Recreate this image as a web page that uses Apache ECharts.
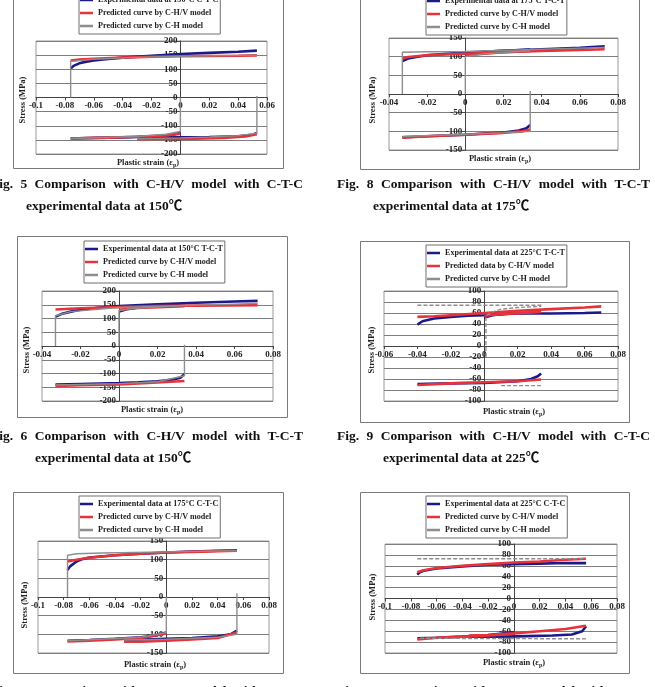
<!DOCTYPE html>
<html>
<head>
<meta charset="utf-8">
<script src="https://cdn.jsdelivr.net/npm/echarts@6/dist/echarts.min.js"></script>
<style>
  html, body { margin: 0; padding: 0; background: #fff; }
  #page { position: relative; width: 655px; height: 687px; overflow: hidden; }
  #chart { position: absolute; left: 0; top: 0; width: 655px; height: 687px; }
  .cap { position: absolute; white-space: nowrap; color: #111; line-height: 18px;
         font: bold 13.5px "Liberation Serif", "Noto Sans CJK SC", serif; }
  .cap.j { text-align: justify; text-align-last: justify; }
</style>
</head>
<body>
<div id="page">
  <div id="chart"></div>
</div>
<script>
// ---- data (strain, stress MPa), each array = list of curve segments ----
// Fig. 5  150°C C-T-C
const fig5Names = ['Experimental data at 150°C C-T-C', 'Predicted curve by C-H/V model', 'Predicted curve by C-H model'];
const fig5Exp = [
  [[0, -125], [-0.005, -132], [-0.02, -138], [-0.04, -141], [-0.06, -143], [-0.076, -145]],
  [[-0.076, 102], [-0.074, 112], [-0.07, 121], [-0.065, 127], [-0.06, 131], [-0.05, 136], [-0.04, 141], [-0.02, 148], [0, 154], [0.02, 158], [0.04, 162], [0.053, 166]],
  [[0.053, -125], [0.05, -132], [0.04, -137], [0.02, -140], [0, -141], [-0.02, -142]]
];
const fig5Chv = [
  [[0, -128], [-0.01, -134], [-0.03, -139], [-0.05, -142], [-0.076, -145]],
  [[-0.076, 131], [-0.07, 134], [-0.06, 137], [-0.04, 141], [-0.02, 144], [0, 146], [0.02, 147], [0.04, 148], [0.053, 149]],
  [[0.053, -130], [0.045, -138], [0.03, -143], [0.01, -146], [-0.01, -147], [-0.03, -148]]
];
const fig5Ch = [
  [[0, 0], [0, -120], [-0.01, -130], [-0.03, -138], [-0.076, -145]],
  [[-0.076, 0], [-0.076, 128], [-0.06, 136], [-0.03, 142], [0, 146], [0.053, 150]],
  [[0.053, 5], [0.053, -126], [0.04, -135], [0.02, -140], [0, -143], [-0.03, -146]]
];

// Fig. 8  175°C T-C-T
const fig8Names = ['Experimental data at 175°C T-C-T', 'Predicted curve by C-H/V model', 'Predicted curve by C-H model'];
const fig8Exp = [
  [[0, 105], [0.005, 110], [0.01, 113], [0.02, 116], [0.034, 119]],
  [[0.034, -83], [0.032, -92], [0.028, -98], [0.02, -103], [0.01, -106], [0, -109], [-0.02, -113], [-0.033, -116]],
  [[-0.033, 88], [-0.03, 95], [-0.025, 100], [-0.02, 104], [-0.01, 108], [0, 111], [0.02, 116], [0.04, 120], [0.06, 124], [0.073, 128]]
];
const fig8Chv = [
  [[0, 103], [0.01, 108], [0.02, 112], [0.034, 115]],
  [[0.034, -95], [0.03, -100], [0.02, -104], [0, -109], [-0.02, -113], [-0.033, -117]],
  [[-0.033, 95], [-0.03, 99], [-0.02, 104], [0, 108], [0.02, 112], [0.04, 115], [0.06, 118], [0.073, 120]]
];
const fig8Ch = [
  [[0, 0], [0, 100], [0.01, 108], [0.034, 116]],
  [[0.034, 8], [0.034, -100], [0.02, -104], [0, -108], [-0.033, -114]],
  [[-0.033, 0], [-0.033, 112], [-0.02, 113], [0, 114], [0.04, 120], [0.073, 125]]
];

// Fig. 6  150°C T-C-T
const fig6Names = ['Experimental data at 150°C T-C-T', 'Predicted curve by C-H/V model', 'Predicted curve by C-H model'];
const fig6Exp = [
  [[0, 125], [0.005, 135], [0.01, 140], [0.02, 148], [0.034, 153]],
  [[0.034, -102], [0.032, -115], [0.028, -122], [0.02, -128], [0.01, -132], [0, -135], [-0.02, -138], [-0.033, -140]],
  [[-0.033, 107], [-0.03, 116], [-0.025, 125], [-0.02, 132], [-0.01, 140], [0, 145], [0.02, 152], [0.04, 157], [0.06, 162], [0.072, 164]]
];
const fig6Chv = [
  [[0, 132], [0.01, 138], [0.034, 145]],
  [[0.034, -127], [0.02, -133], [0, -140], [-0.02, -143], [-0.033, -145]],
  [[-0.033, 133], [-0.02, 137], [0, 142], [0.02, 145], [0.04, 147], [0.072, 148]]
];
const fig6Ch = [
  [[0, 0], [0, 128], [0.005, 135], [0.034, 148]],
  [[0.034, 5], [0.034, -108], [0.02, -130], [0, -137], [-0.033, -142]],
  [[-0.033, 0], [-0.033, 110], [-0.025, 125], [0, 140], [0.072, 155]]
];

// Fig. 9  225°C T-C-T
const fig9Names = ['Experimental data at 225°C T-C-T', 'Predicted data by C-H/V model', 'Predicted curve by C-H model'];
const fig9Exp = [
  [[0, 52], [0.005, 56], [0.01, 58], [0.02, 60], [0.034, 61]],
  [[0.034, -50], [0.032, -55], [0.028, -60], [0.02, -64], [0, -67], [-0.02, -68], [-0.04, -69]],
  [[-0.04, 39], [-0.037, 45], [-0.03, 50], [-0.02, 53], [-0.01, 55], [0, 56], [0.01, 58], [0.02, 59], [0.04, 59], [0.06, 60], [0.07, 61]]
];
const fig9Chv = [
  [[0, 55], [0.01, 58], [0.034, 62]],
  [[0.034, -61], [0.02, -64], [0, -66], [-0.02, -68], [-0.04, -71]],
  [[-0.04, 53], [-0.03, 54], [-0.02, 56], [0, 60], [0.02, 64], [0.04, 67], [0.06, 70], [0.07, 72]]
];
const fig9Ch = [
  [[0.001, -20], [0.001, 55], [0.005, 62], [0.01, 67], [0.02, 70], [0.034, 72]],
  [[0.034, -72], [0.01, -72]],
  [[-0.04, 74], [0.035, 74]]
];

// Fig. 7  175°C C-T-C
const fig7Names = ['Experimental data at 175°C C-T-C', 'Predicted curve by C-H/V model', 'Predicted curve by C-H model'];
const fig7Exp = [
  [[0, -95], [-0.01, -104], [-0.02, -108], [-0.04, -112], [-0.06, -115], [-0.077, -117]],
  [[-0.077, 72], [-0.075, 82], [-0.07, 95], [-0.065, 102], [-0.06, 106], [-0.04, 112], [-0.02, 116], [0, 119], [0.02, 122], [0.04, 124], [0.055, 125]],
  [[0.055, -90], [0.05, -100], [0.04, -105], [0.02, -110], [0, -112], [-0.02, -114], [-0.033, -115]]
];
const fig7Chv = [
  [[0, -98], [-0.02, -110], [-0.04, -114], [-0.06, -117], [-0.077, -119]],
  [[-0.077, 95], [-0.07, 100], [-0.06, 105], [-0.04, 112], [-0.02, 116], [0, 119], [0.02, 121], [0.04, 123], [0.055, 124]],
  [[0.055, -95], [0.04, -110], [0.02, -114], [0, -117], [-0.02, -120], [-0.033, -120]]
];
const fig7Ch = [
  [[0, 0], [0, -95], [-0.02, -108], [-0.077, -117]],
  [[-0.077, 0], [-0.077, 112], [-0.07, 116], [-0.05, 118], [0, 121], [0.055, 124]],
  [[0.055, 10], [0.055, -100], [0.04, -108], [0, -113], [-0.033, -115]]
];

// Fig. 10  225°C C-T-C
const fig10Names = ['Experimental data at 225°C C-T-C', 'Predicted curve by C-H/V model', 'Predicted curve by C-H model'];
const fig10Exp = [
  [[0, -62], [-0.02, -67], [-0.04, -70], [-0.06, -72], [-0.075, -73]],
  [[-0.075, 44], [-0.073, 48], [-0.07, 51], [-0.06, 55], [-0.04, 59], [-0.02, 62], [0, 63], [0.02, 64], [0.04, 65], [0.056, 65]],
  [[0.056, -51], [0.053, -60], [0.045, -66], [0.03, -68], [0.01, -69], [-0.01, -70], [-0.035, -70]]
];
const fig10Chv = [
  [[0, -65], [-0.02, -68], [-0.04, -70], [-0.06, -72], [-0.075, -75]],
  [[-0.075, 48], [-0.07, 52], [-0.06, 56], [-0.04, 60], [-0.02, 63], [0, 66], [0.02, 68], [0.04, 71], [0.056, 73]],
  [[0.056, -50], [0.04, -56], [0.02, -60], [0, -64], [-0.02, -67], [-0.035, -68]]
];
const fig10Ch = [
  [[-0.075, 73], [0.056, 73]],
  [[0.056, -74], [-0.075, -73]]
];

// axis ranges [min, max, interval]
const fig5X = [-0.1, 0.06, 0.02], fig5Y = [-200, 200, 50];
const fig8X = [-0.04, 0.08, 0.02], fig8Y = [-150, 150, 50];
const fig6X = [-0.04, 0.08, 0.02], fig6Y = [-200, 200, 50];
const fig9X = [-0.06, 0.08, 0.02], fig9Y = [-100, 100, 20];
const fig7X = [-0.1, 0.08, 0.02], fig7Y = [-150, 150, 50];
const fig10X = [-0.1, 0.08, 0.02], fig10Y = [-100, 100, 20];

const yTitle = 'Stress (MPa)';
const captionLines = [
  ['Fig. 5 Comparison with C-H/V model with C-T-C', 'experimental data at 150℃'],
  ['Fig. 8 Comparison with C-H/V model with T-C-T', 'experimental data at 175℃'],
  ['Fig. 6 Comparison with C-H/V model with T-C-T', 'experimental data at 150℃'],
  ['Fig. 9 Comparison with C-H/V model with C-T-C', 'experimental data at 225℃'],
  ['Fig. 7 Comparison with C-H/V model with C-T-C', ''],
  ['Fig. 10 Comparison with C-H/V model with C-T-C', '']
];

// ---- layout ----
const panels = [
  { names: fig5Names, exp: fig5Exp, chv: fig5Chv, ch: fig5Ch, x: fig5X, y: fig5Y,
    box: [13, -20, 270, 188], grid: [36, 41, 231, 113], legend: [79, -8], yName: [23, 100], xName: [148, 163] },
  { names: fig8Names, exp: fig8Exp, chv: fig8Chv, ch: fig8Ch, x: fig8X, y: fig8Y,
    box: [360, -20, 279, 189], grid: [389, 38, 229, 112], legend: [426, -7], yName: [373, 100], xName: [500, 159] },
  { names: fig6Names, exp: fig6Exp, chv: fig6Chv, ch: fig6Ch, x: fig6X, y: fig6Y,
    box: [17, 236, 270, 181], grid: [42, 291, 231, 110], legend: [84, 241], yName: [27, 350], xName: [152, 410] },
  { names: fig9Names, exp: fig9Exp, chv: fig9Chv, ch: fig9Ch, x: fig9X, y: fig9Y, dash: true,
    box: [360, 241, 269, 181], grid: [384, 291, 234, 110], legend: [426, 245], yName: [372, 350], xName: [514, 412] },
  { names: fig7Names, exp: fig7Exp, chv: fig7Chv, ch: fig7Ch, x: fig7X, y: fig7Y,
    box: [13, 492, 270, 181], grid: [38, 541, 231, 112], legend: [79, 496], yName: [25, 605], xName: [155, 665] },
  { names: fig10Names, exp: fig10Exp, chv: fig10Chv, ch: fig10Ch, x: fig10X, y: fig10Y, dash: true,
    box: [360, 492, 269, 181], grid: [385, 544, 232, 109], legend: [426, 496], yName: [373, 597], xName: [514, 663] }
];
// caption: [line1 left, line1 width, line1 top, line2 left]
const captionPos = [
  [-9, 312, 176, 26], [337, 313, 176, 373],
  [-9, 312, 428, 35], [337, 313, 428, 383],
  [-9, 312, 683, 0], [337, 313, 683, 0]
];

const serif = '"Liberation Serif", "Times New Roman", serif';
const blue = '#1c1a8a', red = '#e8323a', gray = '#8e8e8e';

function curve(segs, name, color, width, ax, z, dash) {
  return segs.map(seg => ({
    type: 'line', name: name, xAxisIndex: ax, yAxisIndex: ax, data: seg,
    symbol: 'none', silent: true, z: z, animation: false,
    lineStyle: { color: color, width: width, type: dash ? [4, 2] : 'solid' },
    itemStyle: { color: color }
  }));
}

const grid = [], xAxis = [], yAxis = [], legend = [], series = [], graphic = [];
const labelStyle = { fontFamily: serif, fontWeight: 'bold', fontSize: 9, color: '#222' };

panels.forEach((p, i) => {
  // Excel style: axes cross at zero, labels follow the crossing lines
  const xOff = -p.grid[3] * (0 - p.y[0]) / (p.y[1] - p.y[0]);
  const yOff = -p.grid[2] * (0 - p.x[0]) / (p.x[1] - p.x[0]);
  graphic.push({ type: 'rect', z: -1,
    shape: { x: p.box[0] + 0.5, y: p.box[1] + 0.5, width: p.box[2], height: p.box[3] },
    style: { fill: '#fff', stroke: '#7a7a7a', lineWidth: 1 } });
  grid.push({ left: p.grid[0], top: p.grid[1], width: p.grid[2], height: p.grid[3],
    show: true, borderColor: '#9a9a9a', borderWidth: 1, backgroundColor: 'transparent' });
  xAxis.push({ type: 'value', gridIndex: i, min: p.x[0], max: p.x[1], interval: p.x[2],
    position: 'bottom', offset: xOff,
    axisLine: { onZero: false, lineStyle: { color: '#444', width: 1 } },
    axisTick: { show: true, length: 3, lineStyle: { color: '#444' } },
    axisLabel: Object.assign({ margin: 4 }, labelStyle),
    splitLine: { show: false } });
  yAxis.push({ type: 'value', gridIndex: i, min: p.y[0], max: p.y[1], interval: p.y[2],
    position: 'left', offset: yOff,
    axisLine: { onZero: false, lineStyle: { color: '#444', width: 1 } },
    axisTick: { show: true, length: 3, lineStyle: { color: '#444' } },
    axisLabel: Object.assign({ margin: 3 }, labelStyle),
    splitLine: { show: true, lineStyle: { color: '#7d7d7d', width: 1 } } });
  legend.push({ left: p.legend[0], top: p.legend[1], orient: 'vertical',
    data: p.names, icon: 'rect', itemWidth: 13, itemHeight: 2.5, itemGap: 3,
    padding: [3, 2, 3, 1], borderColor: '#6f6f6f', borderWidth: 1, backgroundColor: '#fff',
    textStyle: { fontFamily: serif, fontWeight: 'bold', fontSize: 8.1, color: '#222', lineHeight: 10 } });
  series.push(...curve(p.exp, p.names[0], blue, 2.6, i, 2));
  series.push(...curve(p.chv, p.names[1], red, 2.6, i, 3));
  series.push(...curve(p.ch, p.names[2], gray, 1.4, i, 4, p.dash));
  graphic.push({ type: 'text', x: p.yName[0], y: p.yName[1], rotation: Math.PI / 2,
    style: { text: yTitle, fontFamily: serif, fontWeight: 'bold', fontSize: 8.5, fill: '#222',
      align: 'center', verticalAlign: 'middle' } });
  graphic.push({ type: 'text', x: p.xName[0], y: p.xName[1],
    style: { text: '{a|Plastic strain (ε}{s|p}{a|)}', align: 'center', verticalAlign: 'middle',
      rich: {
        a: { fontFamily: serif, fontWeight: 'bold', fontSize: 8.5, fill: '#222', lineHeight: 11 },
        s: { fontFamily: serif, fontWeight: 'bold', fontSize: 6, fill: '#222', lineHeight: 11,
             verticalAlign: 'bottom', padding: [4, 0, 0, 0] }
      } } });
});

const myChart = echarts.init(document.getElementById('chart'));
myChart.setOption({
  animation: false,
  grid: grid, xAxis: xAxis, yAxis: yAxis, legend: legend,
  series: series, graphic: graphic
});

// captions under each panel
const page = document.getElementById('page');
captionLines.forEach((lines, i) => {
  const pos = captionPos[i];
  const l1 = document.createElement('div');
  l1.className = 'cap j';
  l1.style.left = pos[0] + 'px';
  l1.style.top = pos[2] + 'px';
  l1.style.width = pos[1] + 'px';
  l1.textContent = lines[0];
  page.appendChild(l1);
  if (lines[1]) {
    const l2 = document.createElement('div');
    l2.className = 'cap';
    l2.style.left = pos[3] + 'px';
    l2.style.top = (pos[2] + 18) + 'px';
    l2.textContent = lines[1];
    page.appendChild(l2);
  }
});
</script>
</body>
</html>
